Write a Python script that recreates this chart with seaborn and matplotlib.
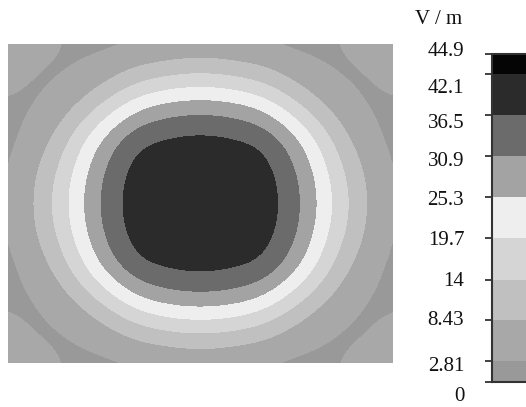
import numpy as np
import matplotlib.pyplot as plt
import seaborn as sns
from matplotlib.colors import ListedColormap, BoundaryNorm
from matplotlib.transforms import ScaledTranslation

# contour levels of the legend (V/m) and gray of each band, low -> high
levels = [0, 2.81, 8.43, 14, 19.7, 25.3, 30.9, 36.5, 42.1, 44.9]
level_labels = ['0', '2.81', '8.43', '14', '19.7', '25.3', '30.9', '36.5', '42.1', '44.9']
band_grays = ['#999999', '#a8a8a8', '#c0c0c0', '#d5d5d5', '#eeeeee',
              '#a3a3a3', '#6b6b6b', '#2b2b2b', '#050505']

# field strength, 13 columns x 11 rows, top row first
row_0 = [6.2, 4.2, 2.25, 1.35, 2.17, 2.7, 3.5, 2.7, 2.17, 1.35, 2.25, 4.1, 5.9]
row_1 = [4.1, 1.95, 2.1, 5.8, 10.8, 13.6, 14.8, 13.6, 10.8, 5.8, 2.1, 1.95, 4.0]
row_2 = [2.2, 2.1, 7.6, 15.8, 24.5, 28.5, 29.5, 28.5, 24.5, 15.8, 7.6, 2.1, 2.2]
row_3 = [1.4, 5.2, 15.0, 27.0, 36.2, 37.9, 38.8, 37.9, 36.2, 27.0, 15.0, 5.2, 1.4]
row_4 = [2.0, 8.75, 19.6, 32.0, 39.2, 40.5, 41.0, 40.5, 39.2, 32.0, 19.6, 8.75, 2.0]
row_5 = [2.17, 10.0, 21.5, 33.0, 40.0, 41.2, 41.3, 41.2, 40.0, 33.0, 21.5, 10.0, 2.17]
row_6 = [2.0, 8.75, 19.6, 32.0, 39.2, 40.5, 41.0, 40.5, 39.2, 32.0, 19.6, 8.75, 2.0]
row_7 = [1.4, 5.2, 15.0, 27.0, 36.2, 37.9, 38.8, 37.9, 36.2, 27.0, 15.0, 5.2, 1.4]
row_8 = [2.2, 2.1, 7.6, 15.8, 24.5, 28.5, 29.5, 28.5, 24.5, 15.8, 7.6, 2.1, 2.2]
row_9 = [4.0, 1.95, 2.1, 5.8, 10.8, 13.6, 14.8, 13.6, 10.8, 5.8, 2.1, 1.95, 3.9]
row_10 = [5.8, 4.1, 2.25, 1.35, 2.17, 2.7, 3.5, 2.7, 2.17, 1.35, 2.25, 4.0, 5.6]

E = np.array([row_0, row_1, row_2, row_3, row_4, row_5,
              row_6, row_7, row_8, row_9, row_10])

sns.set_theme(style="white")
plt.rcParams['font.family'] = ['Liberation Serif', 'DejaVu Serif']

cmap = ListedColormap(band_grays)
norm = BoundaryNorm(levels, cmap.N)

fig = plt.figure(figsize=(5.26, 4.07), dpi=100)
ax = fig.add_axes([8 / 526, 1 - 363 / 407, 385 / 526, 319 / 407])
nr, nc = E.shape
im = ax.imshow(E, cmap=cmap, norm=norm, interpolation='bicubic',
               interpolation_stage='data', aspect='auto',
               extent=(-0.5, nc - 0.5, nr - 0.5, -0.5))
ax.set_xlim(0, nc - 1)
ax.set_ylim(nr - 1, 0)
ax.axis('off')

# legend bar
cax = fig.add_axes([492 / 526, 1 - 382 / 407, 40 / 526, 328 / 407])
cb = fig.colorbar(im, cax=cax, spacing='proportional')
cb.outline.set_edgecolor('#333333')
cb.outline.set_linewidth(1.5)
cax.yaxis.set_ticks_position('left')
cax.yaxis.set_label_position('left')
cax.set_yticks(levels, labels=level_labels)
cax.tick_params(axis='y', direction='out', length=5, width=1.3, color='#333333',
                pad=15, labelsize=15, labelcolor='#111111')
cax.minorticks_off()

# labels in the original sit slightly off their ticks
label_shift = [12, 3, -2, -1, 0, 1, 3, 6, 12, -5]
for lbl, d in zip(cax.get_yticklabels(), label_shift):
    lbl.set_transform(lbl.get_transform() + ScaledTranslation(0, -d / 100, fig.dpi_scale_trans))

fig.text(462 / 526, 1 - 20 / 407, 'V / m', ha='right', va='center',
         fontsize=15, color='#111111')

fig.savefig('out.png', dpi=100)
